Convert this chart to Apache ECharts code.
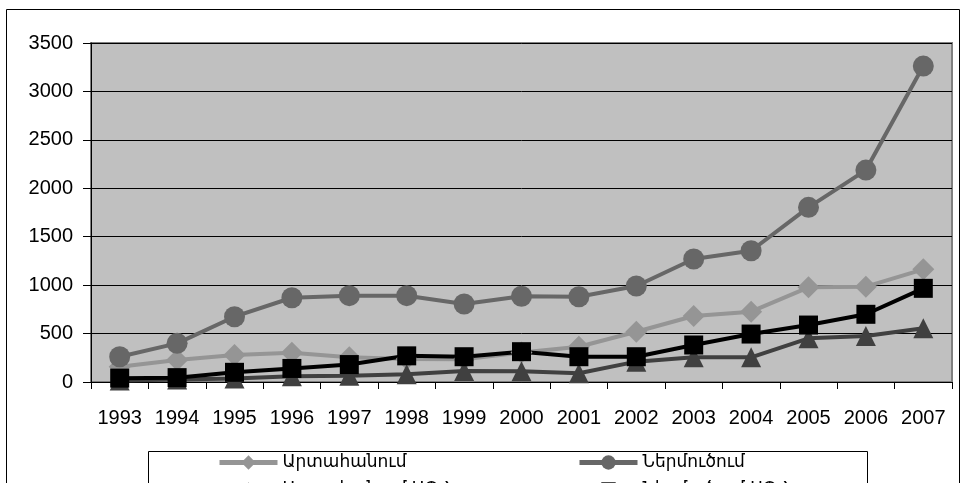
<!DOCTYPE html>
<html><head><meta charset="utf-8">
<script src="https://cdn.jsdelivr.net/npm/echarts@6/dist/echarts.min.js"></script>
<style>html,body{margin:0;padding:0;background:#fff}#c{width:962px;height:483px}</style>
</head><body><div id="c"></div>
<script>
var years = ['1993','1994','1995','1996','1997','1998','1999','2000','2001','2002','2003','2004','2005','2006','2007'];
var yTicks = {min: 0, max: 3500, interval: 500};
var seriesNames = ['Արտահանում', 'Ներմուծում', 'Արտահանում ԱՊՀ', 'Ներմուծում ԱՊՀ'];
var exportVals = [158, 227, 279, 302, 255, 237, 235, 305, 364, 519, 681, 726, 977, 984, 1163];
var importVals = [261, 399, 674, 870, 891, 891, 805, 885, 880, 991, 1270, 1355, 1803, 2188, 3262];
var exportCisVals = [15, 25, 35, 60, 65, 79, 113, 110, 90, 210, 255, 255, 451, 475, 554];
var importCisVals = [40, 45, 100, 140, 180, 270, 261, 313, 261, 261, 382, 495, 588, 699, 967];

var colors = ['#959595', '#676767', '#404040', '#000000'];
var symbols = ['diamond', 'circle', 'triangle', 'rect'];
var sizes = [22, 21, 20, 19];
var datas = [exportVals, importVals, exportCisVals, importCisVals];

var chart = echarts.init(document.getElementById('c'), null, {renderer: 'canvas'});
var series = datas.map(function (d, i) {
  return {
    name: seriesNames[i], type: 'line', data: d,
    symbol: symbols[i], symbolSize: sizes[i], showAllSymbol: true,
    lineStyle: {color: colors[i], width: 4},
    itemStyle: {color: colors[i], borderWidth: 0},
    emphasis: {disabled: true}, animation: false
  };
});
var legendText = {fontFamily: 'DejaVu Sans', fontSize: 17, color: '#000'};
function legendCfg(names, left) {
  return {data: names, orient: 'vertical', left: left, top: 454, width: 300, height: 80,
    itemWidth: 58, itemHeight: 18, itemGap: 10, textStyle: legendText, selectedMode: false,
    padding: 0, z: 10, lineStyle: {width: 5}, itemStyle: {borderWidth: 0}};
}
chart.setOption({
  animation: false,
  textStyle: {fontFamily: 'Liberation Sans, Arial, sans-serif'},
  graphic: [
    {type: 'rect', shape: {x: 6.5, y: 9.5, width: 953, height: 500}, style: {fill: 'none', stroke: '#000', lineWidth: 1}, z: -10},
    {type: 'rect', shape: {x: 148.5, y: 451.5, width: 719, height: 60}, style: {fill: '#fff', stroke: '#000', lineWidth: 1}, z: 0}
  ],
  legend: [
    legendCfg([seriesNames[0], seriesNames[2]], 217),
    legendCfg([seriesNames[1], seriesNames[3]], 577)
  ],
  grid: {left: 91, top: 43, right: 10, bottom: 101, show: true, backgroundColor: '#c0c0c0', borderColor: '#808080', borderWidth: 2},
  xAxis: {
    type: 'category', data: years, boundaryGap: true,
    axisLine: {lineStyle: {color: '#000', width: 1}},
    axisTick: {show: true, length: 7, lineStyle: {color: '#000'}, alignWithLabel: false},
    axisLabel: {fontSize: 20, color: '#000', margin: 26, interval: 0}
  },
  yAxis: {
    type: 'value', min: yTicks.min, max: yTicks.max, interval: yTicks.interval,
    axisLine: {show: true, lineStyle: {color: '#000', width: 1}},
    axisTick: {show: true, length: 8, lineStyle: {color: '#000'}},
    axisLabel: {fontSize: 20, color: '#000', margin: 18, formatter: function (v) { return String(v); }},
    splitLine: {lineStyle: {color: '#000', width: 1}}
  },
  series: series
});
</script></body></html>
